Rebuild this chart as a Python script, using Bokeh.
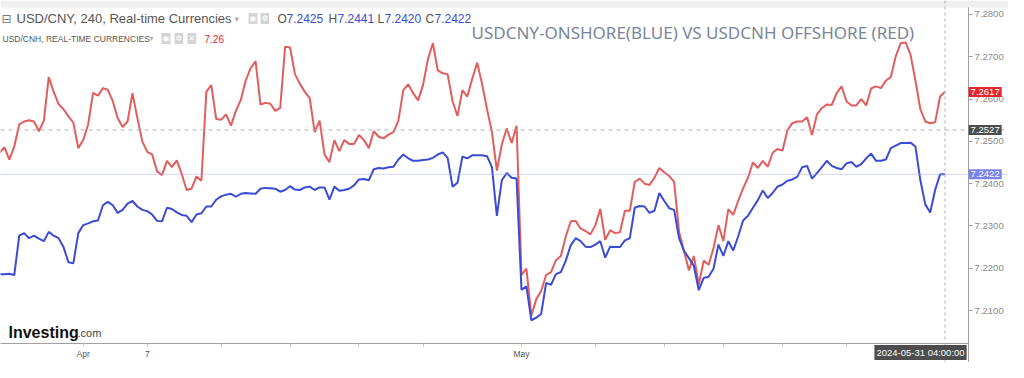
from bokeh.plotting import figure
from bokeh.models import Label, Span, FixedTicker, NumeralTickFormatter, Range1d, BoxAnnotation
from bokeh.embed import file_html
from bokeh.resources import INLINE

# USD/CNH offshore (red), 4h bars
usdcnh = [
    7.2473, 7.2486, 7.2457, 7.2488, 7.2540, 7.2547, 7.2550, 7.2547, 7.2524, 7.2549, 7.2652,
    7.2617, 7.2588, 7.2576, 7.2559, 7.2544, 7.2484, 7.2503, 7.2540, 7.2615, 7.2608, 7.2626,
    7.2622, 7.2595, 7.2555, 7.2534, 7.2547, 7.2614, 7.2555, 7.2500, 7.2475, 7.2469, 7.2429,
    7.2420, 7.2454, 7.2439, 7.2455, 7.2423, 7.2385, 7.2388, 7.2417, 7.2407, 7.2617, 7.2633,
    7.2553, 7.2551, 7.2564, 7.2537, 7.2572, 7.2598, 7.2644, 7.2673, 7.2690, 7.2587, 7.2591,
    7.2589, 7.2572, 7.2579, 7.2724, 7.2722, 7.2659, 7.2636, 7.2617, 7.2602, 7.2522, 7.2549,
    7.2469, 7.2451, 7.2503, 7.2477, 7.2503, 7.2494, 7.2494, 7.2515, 7.2503, 7.2484, 7.2524,
    7.2511, 7.2507, 7.2516, 7.2522, 7.2549, 7.2621, 7.2635, 7.2614, 7.2597, 7.2633, 7.2694,
    7.2732, 7.2668, 7.2661, 7.2659, 7.2595, 7.2560, 7.2621, 7.2606, 7.2648, 7.2686,
    7.2636, 7.2576, 7.2522, 7.2431, 7.2492, 7.2531, 7.2496, 7.2537, 7.2184, 7.2199, 7.2088,
    7.2127, 7.2146, 7.2184, 7.2191, 7.2219, 7.2229, 7.2275, 7.2311, 7.2312, 7.2294, 7.2288,
    7.2280, 7.2302, 7.2340, 7.2267, 7.2290, 7.2283, 7.2285, 7.2336, 7.2336, 7.2404,
    7.2412, 7.2400, 7.2397, 7.2414, 7.2437, 7.2427, 7.2418, 7.2404, 7.2286, 7.2241, 7.2195,
    7.2229, 7.2161, 7.2218, 7.2208, 7.2248, 7.2302, 7.2264, 7.2340, 7.2326, 7.2359, 7.2389,
    7.2414, 7.2450, 7.2437, 7.2454, 7.2440, 7.2473, 7.2482, 7.2478, 7.2526, 7.2543,
    7.2547, 7.2547, 7.2557, 7.2515, 7.2564, 7.2579, 7.2587, 7.2586, 7.2614, 7.2630, 7.2595,
    7.2585, 7.2585, 7.2600, 7.2585, 7.2625, 7.2630, 7.2626, 7.2644, 7.2652, 7.2701, 7.2732,
    7.2734, 7.2705, 7.2644, 7.2576, 7.2547, 7.2543, 7.2545, 7.2606, 7.2617,
]

# USD/CNY onshore (blue), 4h bars
usdcny = [
    7.2186, 7.2186, 7.2187, 7.2184, 7.2277, 7.2283, 7.2271, 7.2277, 7.2270, 7.2264, 7.2286,
    7.2277, 7.2271, 7.2250, 7.2214, 7.2212, 7.2283, 7.2302, 7.2306, 7.2311, 7.2313, 7.2349,
    7.2357, 7.2349, 7.2331, 7.2338, 7.2353, 7.2359, 7.2346, 7.2338, 7.2335, 7.2327, 7.2312,
    7.2311, 7.2343, 7.2340, 7.2332, 7.2326, 7.2324, 7.2309, 7.2327, 7.2330, 7.2346, 7.2346,
    7.2362, 7.2370, 7.2374, 7.2376, 7.2369, 7.2376, 7.2378, 7.2377, 7.2376, 7.2388, 7.2390,
    7.2389, 7.2388, 7.2381, 7.2385, 7.2394, 7.2386, 7.2385, 7.2391, 7.2393, 7.2385, 7.2391,
    7.2391, 7.2362, 7.2393, 7.2383, 7.2385, 7.2388, 7.2396, 7.2410, 7.2411, 7.2408, 7.2434,
    7.2437, 7.2436, 7.2439, 7.2440, 7.2457, 7.2469, 7.2460, 7.2454, 7.2454, 7.2456, 7.2457,
    7.2461, 7.2469, 7.2474, 7.2461, 7.2393, 7.2402, 7.2464, 7.2460, 7.2467, 7.2467,
    7.2467, 7.2465, 7.2439, 7.2324, 7.2408, 7.2425, 7.2414, 7.2412, 7.2149, 7.2157, 7.2077,
    7.2083, 7.2092, 7.2165, 7.2161, 7.2186, 7.2191, 7.2218, 7.2254, 7.2271, 7.2264, 7.2251,
    7.2250, 7.2256, 7.2264, 7.2225, 7.2251, 7.2250, 7.2250, 7.2266, 7.2271, 7.2343,
    7.2347, 7.2346, 7.2331, 7.2336, 7.2378, 7.2359, 7.2342, 7.2338, 7.2271, 7.2241, 7.2224,
    7.2206, 7.2148, 7.2177, 7.2180, 7.2199, 7.2256, 7.2229, 7.2264, 7.2242, 7.2275, 7.2313,
    7.2324, 7.2343, 7.2361, 7.2384, 7.2366, 7.2378, 7.2393, 7.2398, 7.2407, 7.2410,
    7.2416, 7.2439, 7.2442, 7.2412, 7.2425, 7.2439, 7.2454, 7.2442, 7.2437, 7.2434, 7.2448,
    7.2451, 7.2440, 7.2446, 7.2460, 7.2471, 7.2454, 7.2454, 7.2457, 7.2484, 7.2490, 7.2496,
    7.2496, 7.2497, 7.2488, 7.2408, 7.2351, 7.2332, 7.2385, 7.2422, 7.2422,
]

bar_index = list(range(len(usdcny)))

x_tick_positions = [17, 30, 45, 59, 73, 86, 106, 121, 135, 147, 159, 172]
x_tick_labels = ["Apr", "7", "", "", "", "", "May", "", "", "", "", ""]
y_ticks = [7.21, 7.22, 7.23, 7.24, 7.25, 7.26, 7.27, 7.28]

last_cnh = 7.2617
last_cny = 7.2422
mid_line = 7.2527
legend_ohlc = [("O", "7.2425"), ("H", "7.2441"), ("L", "7.2420"), ("C", "7.2422")]
cnh_legend_value = "7.26"
last_time = "2024-05-31 04:00:00"
title_text = "USDCNY-ONSHORE(BLUE) VS USDCNH OFFSHORE (RED)"

RED = "#e35d5d"
BLUE = "#3a4bd6"
X_LO, X_AXIS, X_HI = 0.2, 196.8, 204.9
Y_LO, Y_AXIS, Y_HI = 7.19771, 7.20220, 7.28331

p = figure(width=1008, height=362, output_backend="svg", toolbar_location=None,
           y_axis_location="right", x_range=Range1d(X_LO, X_HI),
           y_range=Range1d(Y_LO, Y_HI), min_border=0, min_border_left=0,
           min_border_top=0, min_border_right=0, min_border_bottom=0)
p.outline_line_color = None
p.xgrid.visible = False
p.ygrid.visible = False
p.background_fill_color = "white"
p.border_fill_color = "white"

# thin toolbar strip along the top edge
p.add_layout(BoxAnnotation(left=0, right=1008, top=362, bottom=355, left_units="screen",
                           right_units="screen", top_units="screen", bottom_units="screen",
                           fill_color="#efefef", fill_alpha=1.0, line_color=None))

p.line(bar_index, usdcnh, line_color=RED, line_width=2)
p.line(bar_index, usdcny, line_color=BLUE, line_width=2)

p.add_layout(Span(location=mid_line, dimension="width", line_color="#b0b0b0",
                  line_dash="4 4", line_width=1))
p.add_layout(Span(location=last_cny, dimension="width", line_color="#a3aaf2",
                  line_dash="1 1", line_width=1))
p.add_layout(Span(location=bar_index[-1], dimension="height", line_color="#b0b0b0",
                  line_dash="3 3", line_width=1))

ya = p.yaxis[0]
ya.fixed_location = X_AXIS
ya.bounds = (Y_LO, Y_HI)
ya.ticker = FixedTicker(ticks=y_ticks)
ya.formatter = NumeralTickFormatter(format="0.0000")
ya.major_label_text_font = "Liberation Sans"
ya.major_label_text_font_size = "9.5px"
ya.major_label_text_color = "#8a8a8a"
ya.axis_line_color = "#a0a0a0"
ya.major_tick_line_color = "#a0a0a0"
ya.major_tick_in = 0
ya.major_tick_out = 4
ya.minor_tick_line_color = None
ya.major_label_standoff = 2

xa = p.xaxis[0]
xa.fixed_location = Y_AXIS
xa.bounds = (X_LO, X_AXIS)
xa.ticker = FixedTicker(ticks=x_tick_positions)
xa.major_label_overrides = {t: l for t, l in zip(x_tick_positions, x_tick_labels)}
xa.major_label_text_font = "Liberation Sans"
xa.major_label_text_font_size = "8.5px"
xa.major_label_text_color = "#555555"
xa.axis_line_color = "#a0a0a0"
xa.major_tick_line_color = "#c0c0c0"
xa.major_tick_in = 0
xa.major_tick_out = 3
xa.minor_tick_line_color = None
xa.major_label_standoff = 2

# price tags on the right scale
for val, bg in [(last_cnh, "#e3262b"), (mid_line, "#4d4d4d"), (last_cny, "#7a82ea")]:
    p.add_layout(Label(x=X_AXIS, y=val, x_units="data", y_units="data", text=f"{val:.4f}",
                       text_color="white", text_font="Liberation Sans", text_font_size="9.5px",
                       text_align="left", text_baseline="middle", background_fill_color=bg,
                       padding=2, x_offset=0))

# time tag
p.add_layout(Label(x=X_AXIS, y=10, x_units="data", y_units="screen", text=last_time,
                   text_color="white", text_font="Liberation Sans", text_font_size="9.5px",
                   text_align="right", text_baseline="middle", background_fill_color="#4d4d4d",
                   padding=2, x_offset=-2))

# legend line 1
L1 = 344
p.add_layout(Label(x=1, y=L1, x_units="screen", y_units="screen", text="⊟",
                   text_color="#777777", text_font="DejaVu Sans", text_font_size="12px",
                   text_baseline="middle"))
p.add_layout(Label(x=16, y=L1, x_units="screen", y_units="screen",
                   text="USD/CNY, 240, Real-time Currencies",
                   text_color="#555555", text_font="Liberation Sans", text_font_size="13px",
                   text_baseline="middle"))
p.add_layout(Label(x=234, y=L1, x_units="screen", y_units="screen", text="▾",
                   text_color="#b0b0b0", text_font="DejaVu Sans", text_font_size="9px",
                   text_baseline="middle"))
for i, g in enumerate(["◉", "✲"]):
    p.add_layout(Label(x=248 + i * 12, y=L1, x_units="screen", y_units="screen", text=g,
                       text_color="white", text_font="DejaVu Sans", text_font_size="8px",
                       text_baseline="middle", background_fill_color="#d4d4d4", padding=1))
ox = [(277, 9), (328, 9), (377, 7), (425, 9)]
for (k, v), (x0, w) in zip(legend_ohlc, ox):
    p.add_layout(Label(x=x0, y=L1, x_units="screen", y_units="screen", text=k,
                       text_color="#555555", text_font="Liberation Sans", text_font_size="12px",
                       text_baseline="middle"))
    p.add_layout(Label(x=x0 + w, y=L1, x_units="screen", y_units="screen", text=v,
                       text_color=BLUE, text_font="Liberation Sans", text_font_size="12px",
                       text_baseline="middle"))

# legend line 2
L2 = 324
p.add_layout(Label(x=2, y=L2, x_units="screen", y_units="screen",
                   text="USD/CNH, REAL-TIME CURRENCIES",
                   text_color="#555555", text_font="Liberation Sans", text_font_size="8.5px",
                   text_baseline="middle"))
p.add_layout(Label(x=149, y=L2, x_units="screen", y_units="screen", text="▾",
                   text_color="#b0b0b0", text_font="DejaVu Sans", text_font_size="8px",
                   text_baseline="middle"))
for i, g in enumerate(["◉", "✲", "✕"]):
    p.add_layout(Label(x=161 + i * 13, y=L2, x_units="screen", y_units="screen", text=g,
                       text_color="white", text_font="DejaVu Sans", text_font_size="8px",
                       text_baseline="middle", background_fill_color="#d4d4d4", padding=1))
p.add_layout(Label(x=204, y=L2, x_units="screen", y_units="screen", text=cnh_legend_value,
                   text_color="#e0262b", text_font="Liberation Sans", text_font_size="10px",
                   text_baseline="middle"))

# title
p.add_layout(Label(x=471, y=330, x_units="screen", y_units="screen", text=title_text,
                   text_color="#7b8697", text_font="Noto Sans", text_font_size="17px",
                   text_baseline="middle"))

# logo
p.add_layout(Label(x=8, y=30, x_units="screen", y_units="screen", text="Investing",
                   text_color="#111111", text_font="Liberation Sans", text_font_style="bold",
                   text_font_size="16px", text_baseline="alphabetic"))
p.add_layout(Label(x=77, y=30, x_units="screen", y_units="screen", text=".com",
                   text_color="#444444", text_font="Liberation Sans",
                   text_font_size="11px", text_baseline="alphabetic"))

open("out.html", "w").write(file_html(p, INLINE))
